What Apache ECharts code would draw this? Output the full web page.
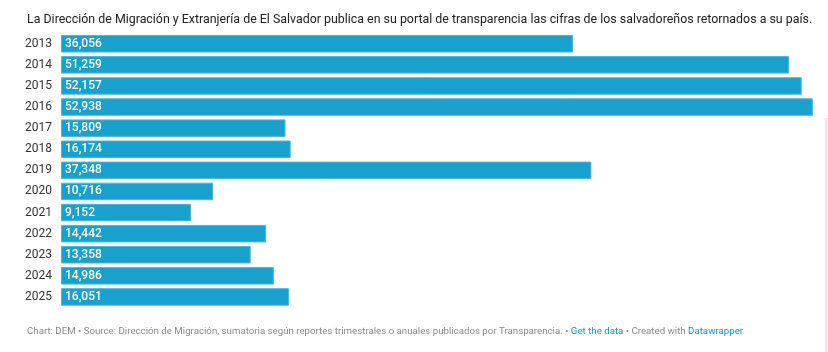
<!DOCTYPE html>
<html>
<head>
<meta charset="utf-8">
<script src="https://cdn.jsdelivr.net/npm/echarts@6/dist/echarts.min.js"></script>
<style>
	html, body { margin: 0; padding: 0; background: #fff; }
	#chart { width: 828px; height: 352px; }
</style>
</head>
<body>
<div id="chart"></div>
<script>
// años y retornados
const years = ['2013', '2014', '2015', '2016', '2017', '2018', '2019', '2020', '2021', '2022', '2023', '2024', '2025'];
const retornados = [36056, 51259, 52157, 52938, 15809, 16174, 37348, 10716, 9152, 14442, 13358, 14986, 16051];

const titleText = 'La Dirección de Migración y Extranjería de El Salvador publica en su portal de transparencia las cifras de los salvadoreños retornados a su país.';
const footerText = 'Chart: DEM • Source: Dirección de Migración, sumatoria según reportes trimestrales o anuales publicados por Transparencia. • {link|Get the data} • Created with {link|Datawrapper}';

const chart = echarts.init(document.getElementById('chart'));

const option = {
	backgroundColor: '#ffffff',
	animation: false,
	title: [
		{
			text: titleText,
			left: 22,
			top: 9,
			textStyle: {
				fontFamily: 'Roboto',
				fontSize: 12.4,
				fontWeight: 'normal',
				color: '#222222'
			}
		},
		{
			text: footerText,
			left: 22,
			top: 322,
			textStyle: {
				fontFamily: 'Roboto',
				fontSize: 9.7,
				fontWeight: 'normal',
				color: '#8a8a8a',
				rich: {
					link: {
						fontFamily: 'Roboto',
						fontSize: 9.7,
						color: '#1d8fd0'
					}
				}
			}
		}
	],
	// franja rosa del borde derecho (captura)
	graphic: [
		{
			type: 'rect',
			right: 0,
			top: 118,
			shape: {width: 3, height: 234},
			style: {fill: '#fde3e7'}
		}
	],
	grid: {
		left: 61,
		top: 33.2,
		width: 751.8,
		height: 274.3,
		containLabel: false
	},
	xAxis: {
		type: 'value',
		min: 0,
		max: 52938,
		show: false
	},
	yAxis: {
		type: 'category',
		data: years,
		inverse: true,
		axisLine: {show: false},
		axisTick: {show: false},
		axisLabel: {
			margin: 9,
			fontFamily: 'Roboto',
			fontSize: 12,
			color: '#333333'
		}
	},
	series: [
		{
			type: 'bar',
			data: retornados,
			barWidth: 17.5,
			itemStyle: {
				color: '#18a1cd',
				borderColor: '#4db5da',
				borderWidth: 1
			},
			label: {
				show: true,
				position: 'insideLeft',
				offset: [-1, 0],
				fontFamily: 'Roboto',
				fontSize: 12,
				fontWeight: 500,
				color: '#ffffff',
				formatter: function (p) {
					return p.value.toLocaleString('en-US');
				}
			}
		}
	]
};

chart.setOption(option);
</script>
</body>
</html>
